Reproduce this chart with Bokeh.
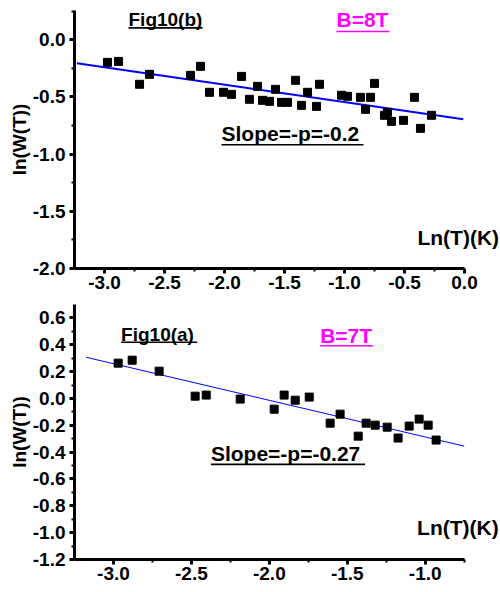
import numpy as np
from bokeh.plotting import figure
from bokeh.layouts import column
from bokeh.models import Label, FixedTicker, NumeralTickFormatter, Range1d
from bokeh.embed import file_html
from bokeh.resources import INLINE

# ---------------- Fig10(b), B = 8T ----------------
b_lnT = [-2.975, -2.883, -2.708, -2.625, -2.283, -2.200, -2.125, -2.008, -1.942,
         -1.858, -1.792, -1.725, -1.683, -1.625, -1.575, -1.525, -1.475, -1.408,
         -1.358, -1.308, -1.233, -1.208, -1.025, -0.975, -0.867, -0.825, -0.783,
         -0.750, -0.667, -0.642, -0.608, -0.508, -0.417, -0.367, -0.275]
b_lnW = [-0.198, -0.190, -0.390, -0.303, -0.312, -0.233, -0.460, -0.460, -0.478,
         -0.321, -0.521, -0.408, -0.530, -0.539, -0.434, -0.548, -0.548, -0.355,
         -0.574, -0.460, -0.583, -0.390, -0.486, -0.495, -0.504, -0.609, -0.504,
         -0.382, -0.661, -0.635, -0.714, -0.705, -0.504, -0.775, -0.661]
b_fit_lnT = [-3.23, -0.01]
b_fit_slope = -0.152
b_fit_intercept = -0.697
b_xticks = [-3.0, -2.5, -2.0, -1.5, -1.0, -0.5, 0.0]
b_yticks = [0.0, -0.5, -1.0, -1.5, -2.0]

# ---------------- Fig10(a), B = 7T ----------------
a_lnT = [-2.970, -2.880, -2.707, -2.476, -2.405, -2.187, -1.969, -1.905, -1.834,
         -1.744, -1.610, -1.546, -1.430, -1.379, -1.321, -1.244, -1.174, -1.103,
         -1.039, -0.981, -0.930]
a_lnW = [0.263, 0.285, 0.203, 0.017, 0.025, -0.005, -0.080, 0.025, -0.013,
         0.010, -0.184, -0.117, -0.281, -0.184, -0.199, -0.214, -0.295, -0.206,
         -0.154, -0.199, -0.310]
a_fit_lnT = [-3.175, -0.750]
a_fit_slope = -0.273
a_fit_intercept = -0.560
a_xticks = [-3.0, -2.5, -2.0, -1.5, -1.0]
a_yticks = [0.6, 0.4, 0.2, 0.0, -0.2, -0.4, -0.6, -0.8, -1.0, -1.2]

FONT = "Liberation Sans"


def minor_between(ticks, lo, hi):
    t = sorted(ticks)
    step = t[1] - t[0]
    out = [v + step / 2 for v in t[:-1]]
    if t[0] - step / 2 > lo + 1e-9:
        out.insert(0, t[0] - step / 2)
    if t[-1] + step / 2 < hi - 1e-9:
        out.append(t[-1] + step / 2)
    return out


def make_panel(lnT, lnW, fit_x, slope, intercept, xticks, yticks, xr, xbounds, yr,
               height, border_top, border_bottom, fit_width, notes):
    p = figure(width=500, height=height, output_backend="svg", toolbar_location=None,
               x_range=Range1d(*xr), y_range=Range1d(*yr),
               min_border_left=74, min_border_right=0,
               min_border_top=border_top, min_border_bottom=border_bottom)
    p.outline_line_color = None
    p.xgrid.visible = False
    p.ygrid.visible = False
    p.background_fill_color = "white"

    p.xaxis.ticker = FixedTicker(ticks=xticks,
                                 minor_ticks=minor_between(xticks, *xbounds))
    p.yaxis.ticker = FixedTicker(ticks=yticks,
                                 minor_ticks=minor_between(yticks, *yr))
    p.xaxis.bounds = xbounds
    for ax in (p.xaxis, p.yaxis):
        ax.formatter = NumeralTickFormatter(format="0.0")
        ax.axis_line_width = 3
        ax.axis_line_color = "black"
        ax.major_tick_line_width = 3
        ax.major_tick_line_color = "black"
        ax.major_tick_out = 5
        ax.major_tick_in = 0
        ax.minor_tick_line_width = 2
        ax.minor_tick_line_color = "black"
        ax.minor_tick_out = 3
        ax.minor_tick_in = 0
        ax.major_label_text_font = FONT
        ax.major_label_text_font_style = "bold"
        ax.major_label_text_font_size = "19px"
        ax.major_label_text_color = "black"
    p.xaxis.major_label_standoff = 2
    p.yaxis.major_label_standoff = 4
    p.yaxis.axis_label = "ln(W(T))"
    p.yaxis.axis_label_text_font = FONT
    p.yaxis.axis_label_text_font_style = "bold"
    p.yaxis.axis_label_text_font_size = "19px"
    p.yaxis.axis_label_text_color = "black"
    p.yaxis.axis_label_standoff = 0

    fx = np.array(fit_x)
    p.line(fx, intercept + slope * fx, line_color="#0000ff", line_width=fit_width)
    p.scatter(lnT, lnW, marker="square", size=8, fill_color="black", line_color="black")

    for text, x, y, size, color, ul_end, ul_y in notes:
        p.add_layout(Label(x=x, y=y, text=text, text_font=FONT, text_font_style="bold",
                           text_font_size=size, text_color=color,
                           text_align="left", text_baseline="middle"))
        if ul_end is not None:
            p.segment(x0=[x], y0=[ul_y], x1=[ul_end], y1=[ul_y],
                      line_color=color, line_width=1.6)
    return p


notes_b = [
    ("Fig10(b)", -2.80, 0.173, "19px", "black", -2.183, 0.103),
    ("B=8T", -1.067, 0.173, "21px", "#ff00ff", -0.625, 0.072),
    ("Slope=-p=-0.2", -2.025, -0.818, "21px", "black", -0.842, -0.919),
    ("Ln(T)(K)", -0.392, -1.731, "21px", "black", None, None),
]
notes_a = [
    ("Fig10(a)", -2.951, 0.478, "19px", "black", -2.463, 0.419),
    ("B=7T", -1.674, 0.471, "21px", "#ff00ff", -1.336, 0.393),
    ("Slope=-p=-0.27", -2.375, -0.407, "21px", "black", -1.386, -0.491),
    ("Ln(T)(K)", -1.052, -0.961, "21px", "black", None, None),
]

p1 = make_panel(b_lnT, b_lnW, b_fit_lnT, b_fit_slope, b_fit_intercept,
                b_xticks, b_yticks, (-3.25, 0.30), (-3.25, 0.0), (-2.0, 0.255),
                298, 10, 30, 2, notes_b)
p2 = make_panel(a_lnT, a_lnW, a_fit_lnT, a_fit_slope, a_fit_intercept,
                a_xticks, a_yticks, (-3.25, -0.517), (-3.25, -0.745), (-1.2, 0.70),
                292, 6, 31, 1, notes_a)

layout = column(p1, p2, spacing=0)
open("out.html", "w").write(file_html(layout, INLINE))
